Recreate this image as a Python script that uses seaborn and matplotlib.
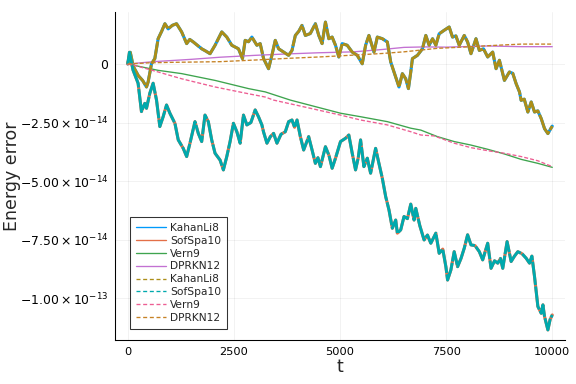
import numpy as np
import pandas as pd
import matplotlib
matplotlib.use("Agg")
import matplotlib.pyplot as plt
import seaborn as sns
from matplotlib.lines import Line2D

# ---------------- data (energy error in units of 1e-14) ----------------
t_kahan = [0, 60, 130, 250, 350, 442, 480, 560, 638, 716, 800, 875, 953, 1050, 1150, 1270,
           1388, 1460, 1545, 1640, 1742, 1840, 1939, 2057, 2140, 2215, 2333, 2451, 2608, 2703,
           2766, 2845, 2924, 3042, 3120, 3200, 3317, 3396, 3475, 3554, 3672, 3790, 3869, 3948,
           4030, 4105, 4184, 4300, 4420, 4500, 4578, 4657, 4736, 4815, 4894, 4972, 5051, 5170,
           5288, 5406, 5524, 5603, 5681, 5800, 5879, 5997, 6115, 6194, 6272, 6390, 6469, 6548,
           6612, 6667, 6706, 6824, 6942, 7021, 7100, 7180, 7258, 7336, 7454, 7572, 7650, 7730,
           7809, 7927, 8006, 8085, 8203, 8282, 8380, 8479, 8597, 8676, 8755, 8873, 8991, 9070,
           9149, 9228, 9267, 9340, 9425, 9504, 9582, 9660, 9740, 9818, 9897, 9950, 10000]
e_kahan = [0.0, 0.5, -0.1, -0.5, -0.7, -0.98, -0.77, 0.01, 0.23, 1.08, 1.4, 1.72, 1.5, 1.65,
           1.72, 1.37, 0.87, 1.05, 0.94, 0.8, 0.65, 0.55, 0.44, 0.8, 1.1, 1.37, 1.15, 0.8, 0.65,
           0.23, 1.01, 0.95, 1.15, 0.8, 0.87, 0.23, -0.2, 0.37, 1.01, 0.65, 0.51, 0.37, 0.58,
           1.22, 1.4, 1.65, 1.22, 1.3, 1.72, 1.22, 0.87, 1.79, 1.08, 1.15, 0.8, 0.3, 0.87, 0.8,
           0.51, 0.37, 0.01, 0.8, 1.22, 0.51, 1.15, 1.08, 0.94, 0.09, -0.34, -0.98, -0.41, -0.63,
           -1.05, -0.34, 0.23, 0.37, 0.65, 1.22, 0.8, 1.08, 0.8, 1.29, 1.44, 1.58, 1.15, 1.2,
           0.8, 1.22, 0.94, 0.44, 1.08, 0.58, 0.65, 0.3, 0.51, -0.2, 0.16, -0.7, -0.34, -0.4,
           -0.84, -1.19, -1.55, -1.5, -2.05, -1.62, -2.05, -2.0, -2.33, -2.76, -2.97, -2.8, -2.65]

t_sofspa = [0, 40, 125, 244, 323, 402, 442, 520, 598, 678, 756, 834, 914, 993, 1111, 1190,
            1307, 1388, 1466, 1584, 1662, 1742, 1820, 1898, 1978, 2057, 2175, 2253, 2333, 2411,
            2489, 2570, 2648, 2726, 2806, 2900, 3002, 3080, 3160, 3199, 3279, 3360, 3435, 3515,
            3610, 3712, 3790, 3869, 3930, 3988, 4066, 4144, 4262, 4342, 4420, 4480, 4539, 4657,
            4740, 4815, 4894, 5012, 5130, 5208, 5288, 5366, 5430, 5485, 5563, 5643, 5721, 5839,
            5917, 5997, 6076, 6154, 6233, 6312, 6351, 6430, 6508, 6588, 6667, 6745, 6785, 6880,
            6981, 7060, 7139, 7258, 7336, 7420, 7494, 7534, 7612, 7690, 7770, 7850, 7927, 8006,
            8085, 8180, 8282, 8361, 8479, 8558, 8640, 8716, 8780, 8834, 8936, 9031, 9110, 9189,
            9290, 9385, 9464, 9520, 9582, 9661, 9740, 9780, 9818, 9897, 9950, 10000]
e_sofspa = [0.0, 0.5, -0.26, -0.82, -2.03, -1.68, -1.89, -1.25, -0.82, -1.54, -2.67, -2.25,
            -1.75, -2.1, -2.53, -3.24, -3.6, -3.95, -3.38, -2.46, -2.96, -3.31, -2.18, -2.46,
            -3.24, -3.81, -4.1, -4.52, -3.95, -3.31, -2.53, -2.89, -3.38, -2.18, -2.6, -2.5,
            -1.96, -2.25, -2.6, -2.9, -3.38, -3.1, -2.96, -3.38, -3.0, -2.89, -2.46, -2.39, -2.7,
            -2.39, -3.1, -3.67, -3.1, -3.67, -4.24, -4.0, -4.38, -3.53, -3.9, -4.45, -4.02,
            -3.31, -3.17, -3.03, -3.81, -4.52, -4.0, -3.24, -4.38, -4.02, -4.66, -3.6, -4.24,
            -4.88, -5.66, -6.23, -7.01, -6.66, -7.22, -7.08, -6.51, -6.6, -5.98, -6.66, -6.16,
            -6.9, -7.51, -7.3, -7.65, -7.22, -8.08, -7.9, -8.65, -9.22, -8.79, -8.01, -8.65,
            -8.3, -7.86, -7.29, -7.72, -7.75, -8.01, -8.36, -7.65, -8.72, -8.4, -8.5, -8.3,
            -8.72, -7.58, -8.43, -8.2, -8.01, -8.1, -8.29, -8.5, -8.2, -9.07, -10.35, -10.64,
            -10.28, -10.78, -11.35, -10.9, -10.71]

t_vern = [0, 716, 1270, 2057, 2845, 3239, 3830, 5012, 5485, 6115, 6667, 6903, 7296, 7690,
          8085, 8479, 8873, 9267, 9661, 10000]
e_vern = [0.0, -0.27, -0.41, -0.7, -1.05, -1.19, -1.54, -2.1, -2.25, -2.46, -2.74, -2.82,
          -3.1, -3.31, -3.46, -3.64, -3.84, -4.07, -4.24, -4.41]

t_vern_b = [0, 165, 716, 1270, 2057, 2845, 3239, 3435, 4302, 5012, 5485, 6115, 6667, 6903,
            7218, 7690, 8085, 8479, 8873, 9267, 9661, 10000]
e_vern_b = [0.0, -0.06, -0.34, -0.63, -0.98, -1.27, -1.41, -1.54, -1.89, -2.18, -2.39, -2.6,
            -2.89, -3.03, -3.07, -3.38, -3.57, -3.7, -3.81, -3.95, -4.13, -4.38]

t_dprkn = [0, 600, 1500, 2175, 3000, 3750, 4500, 5327, 6000, 6508, 7000, 7500, 8479, 9267, 10000]
e_dprkn = [0.0, 0.1, 0.2, 0.29, 0.37, 0.43, 0.48, 0.52, 0.62, 0.71, 0.73, 0.72, 0.77, 0.74, 0.74]

t_dprkn_b = [0, 500, 1000, 2175, 3000, 3750, 4500, 5327, 6000, 6508, 7296, 8000, 8479, 9267, 10000]
e_dprkn_b = [0.0, 0.05, 0.07, 0.1, 0.17, 0.24, 0.3, 0.38, 0.45, 0.52, 0.67, 0.73, 0.78, 0.85, 0.85]

labels = ["KahanLi8", "SofSpa10", "Vern9", "DPRKN12"]
colors = ["#009AFA", "#E36F47", "#3EA44E", "#C371D2",
          "#AC8E18", "#00A9AD", "#ED5E93", "#C68225"]

scale = 1e-14
series = [
    (t_kahan, e_kahan, colors[0], "-", 2.3),
    (t_sofspa, e_sofspa, colors[1], "-", 2.3),
    (t_vern, e_vern, colors[2], "-", 1.0),
    (t_dprkn, e_dprkn, colors[3], "-", 1.0),
    (t_kahan, e_kahan, colors[4], (0, (8, 0.5)), 2.2),
    (t_sofspa, e_sofspa, colors[5], (0, (8, 0.5)), 2.2),
    (t_vern_b, e_vern_b, colors[6], (0, (3, 1.5)), 1.0),
    (t_dprkn_b, e_dprkn_b, colors[7], (0, (3, 1.5)), 1.0),
]

sns.set_theme(style="white")
plt.rcParams['font.family'] = ['DejaVu Sans']
plt.rcParams['mathtext.fontset'] = 'dejavusans'

fig = plt.figure(figsize=(6, 4), dpi=96)
ax = fig.add_axes([115 / 576, 44 / 384, 450 / 576, 328 / 384])

for t, e, c, ls, lw in series:
    df = pd.DataFrame({"t": t, "err": np.array(e) * scale})
    sns.lineplot(data=df, x="t", y="err", ax=ax, color=c, linewidth=lw,
                 linestyle=ls, estimator=None, sort=False)

ax.set_xlim(-300, 10300)
ax.set_ylim(-11.78e-14, 2.22e-14)
ax.set_xticks([0, 2500, 5000, 7500, 10000])
ax.set_xticklabels(["0", "2500", "5000", "7500", "10000"])
yt = [0, -2.5e-14, -5e-14, -7.5e-14, -1e-13]
ax.set_yticks(yt)
ax.set_yticklabels(["0",
                    r"$\mathregular{-2.50\times10^{-14}}$",
                    r"$\mathregular{-5.00\times10^{-14}}$",
                    r"$\mathregular{-7.50\times10^{-14}}$",
                    r"$\mathregular{-1.00\times10^{-13}}$"])
ax.tick_params(axis="both", direction="in", length=4, width=0.8, colors="black", pad=5)
ax.tick_params(axis="x", labelsize=8.5)
ax.tick_params(axis="y", labelsize=9.3)
ax.grid(True, color="black", alpha=0.08, linewidth=0.5)
for s in ["top", "right"]:
    ax.spines[s].set_visible(False)
for s in ["left", "bottom"]:
    ax.spines[s].set_color("black")
    ax.spines[s].set_linewidth(0.8)
ax.set_xlabel("t", fontsize=13)
ax.set_ylabel("Energy error", fontsize=13)
ax.yaxis.set_label_coords(-0.208, 0.5)
ax.xaxis.set_label_coords(0.5, -0.055)

handles = []
names = labels + labels
for i, (t, e, c, ls, lw) in enumerate(series):
    handles.append(Line2D([0], [0], color=c, linewidth=1.0,
                          linestyle="-" if i < 4 else (0, (3, 2))))
leg = ax.legend(handles, names, loc="lower left", bbox_to_anchor=(0.033, 0.034),
                borderaxespad=0, fontsize=8, frameon=True, fancybox=False,
                handlelength=2.8, labelspacing=0.27, handletextpad=0.4,
                borderpad=0.55)
leg.get_frame().set_edgecolor("black")
leg.get_frame().set_linewidth(0.8)

fig.savefig("out.png", dpi=96)
